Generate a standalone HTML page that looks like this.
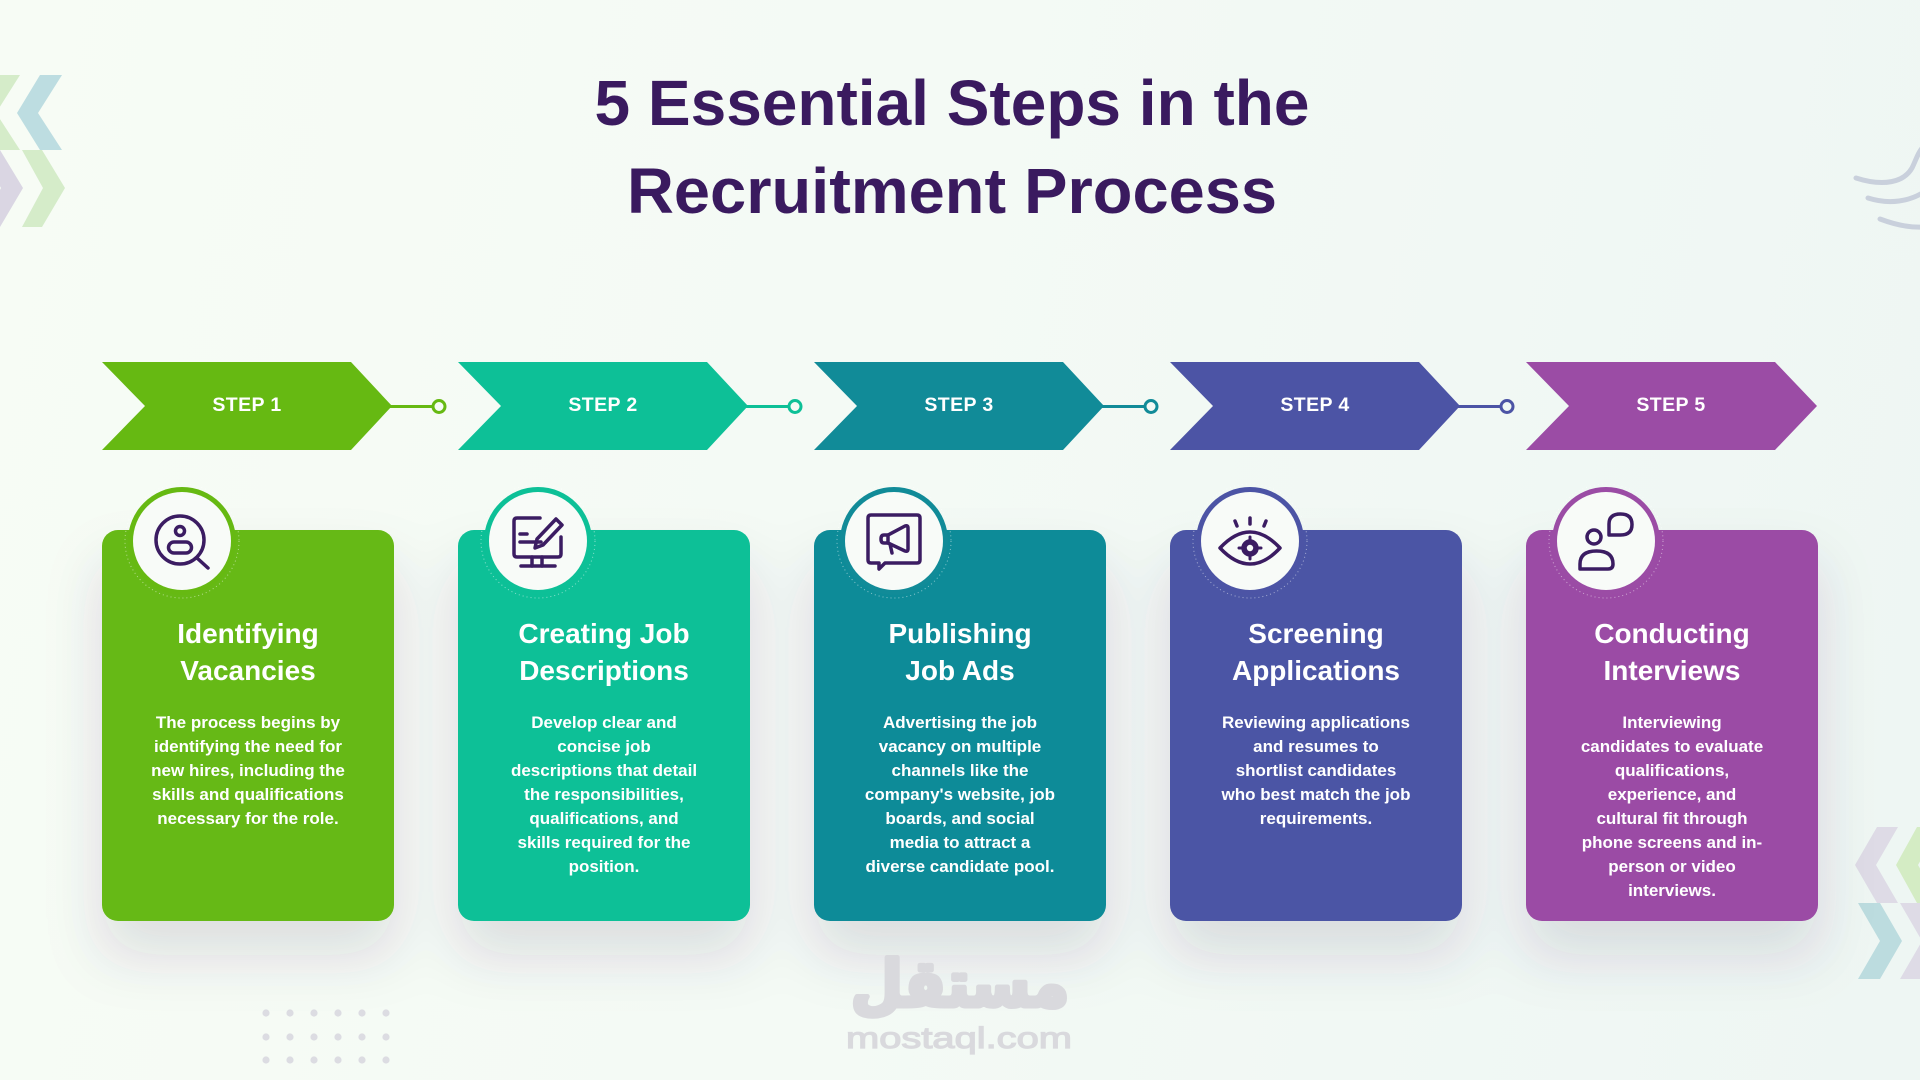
<!DOCTYPE html>
<html>
<head>
<meta charset="utf-8">
<style>
  html,body{margin:0;padding:0;}
  body{width:1920px;height:1080px;overflow:hidden;background:linear-gradient(100deg,#f7fcf5 0%,#f4faf5 45%,#eef6f3 100%);}
  svg{position:absolute;left:0;top:0;}
  text{font-family:"Liberation Sans",Arial,sans-serif;font-weight:bold;}
</style>
</head>
<body>
<svg width="1920" height="1080" viewBox="0 0 1920 1080" xmlns="http://www.w3.org/2000/svg">
  <defs>
    <filter id="sh" x="-50%" y="-40%" width="200%" height="190%">
      <feDropShadow dx="0" dy="34" stdDeviation="28" flood-color="#3a3460" flood-opacity="0.14"/>
    </filter>
  </defs>

  <!-- top-left decoration -->
  <polygon points="-2,75 20,75 -4,113 20,150 -2,150 -25,113" fill="#d5ecc9"/>
  <polygon points="40,75 62,75 38,113 62,150 40,150 17,113" fill="#bddde1"/>
  <polygon points="-20,150 0,150 23,188 0,227 -20,227 1,188" fill="#dad6e3"/>
  <polygon points="22,150 42,150 65,188 42,227 22,227 43,188" fill="#d5ecc9"/>

  <!-- top-right curves -->
  <g fill="none" stroke="#c9d0dc" stroke-width="5" stroke-linecap="round">
    <path d="M1856,178 C1884,187 1904,182 1912,168 C1916,160 1918,152 1924,146"/>
    <path d="M1868,198 C1890,205 1910,201 1924,192"/>
    <path d="M1880,219 C1896,225 1910,228 1924,227"/>
  </g>

  <!-- bottom-right decoration -->
  <polygon points="1877,827 1898,827 1876,865 1898,903 1877,903 1855,865" fill="#dedbe6"/>
  <polygon points="1917,827 1940,827 1918,865 1940,903 1917,903 1896,865" fill="#d4ecc4"/>
  <polygon points="1858,903 1880,903 1902,941 1880,979 1858,979 1880,941" fill="#bcdcdf"/>
  <polygon points="1900,903 1922,903 1944,941 1922,979 1900,979 1922,941" fill="#dedbe6"/>

  <!-- dots -->
  <g fill="#dcdce2">
    <circle cx="266" cy="1013" r="3.6"/><circle cx="290" cy="1013" r="3.6"/><circle cx="314" cy="1013" r="3.6"/><circle cx="338" cy="1013" r="3.6"/><circle cx="362" cy="1013" r="3.6"/><circle cx="386" cy="1013" r="3.6"/>
    <circle cx="266" cy="1037" r="3.6"/><circle cx="290" cy="1037" r="3.6"/><circle cx="314" cy="1037" r="3.6"/><circle cx="338" cy="1037" r="3.6"/><circle cx="362" cy="1037" r="3.6"/><circle cx="386" cy="1037" r="3.6"/>
    <circle cx="266" cy="1060" r="3.6"/><circle cx="290" cy="1060" r="3.6"/><circle cx="314" cy="1060" r="3.6"/><circle cx="338" cy="1060" r="3.6"/><circle cx="362" cy="1060" r="3.6"/><circle cx="386" cy="1060" r="3.6"/>
  </g>

  <!-- title -->
  <text x="952" y="125" font-size="64" fill="#3a1a5f" text-anchor="middle">5 Essential Steps in the</text>
  <text x="952" y="213" font-size="64" fill="#3a1a5f" text-anchor="middle" textLength="650" lengthAdjust="spacingAndGlyphs">Recruitment Process</text>

  <!-- ARROWS -->
  <g>
    <polygon points="102,362 351,362 392,406 351,450 102,450 145,406" fill="#66b912"/>
    <line x1="390" y1="406.5" x2="432" y2="406.5" stroke="#66b912" stroke-width="3"/>
    <circle cx="439" cy="406.5" r="6" fill="#f6fbf5" stroke="#66b912" stroke-width="3"/>
    <text x="247" y="411" font-size="19.5" fill="#ffffff" text-anchor="middle" letter-spacing="0.4">STEP 1</text>

    <polygon points="458,362 707,362 748,406 707,450 458,450 501,406" fill="#0dc097"/>
    <line x1="746" y1="406.5" x2="788" y2="406.5" stroke="#0dc097" stroke-width="3"/>
    <circle cx="795" cy="406.5" r="6" fill="#f5faf5" stroke="#0dc097" stroke-width="3"/>
    <text x="603" y="411" font-size="19.5" fill="#ffffff" text-anchor="middle" letter-spacing="0.4">STEP 2</text>

    <polygon points="814,362 1063,362 1104,406 1063,450 814,450 857,406" fill="#118b98"/>
    <line x1="1102" y1="406.5" x2="1144" y2="406.5" stroke="#118b98" stroke-width="3"/>
    <circle cx="1151" cy="406.5" r="6" fill="#f3f9f5" stroke="#118b98" stroke-width="3"/>
    <text x="959" y="411" font-size="19.5" fill="#ffffff" text-anchor="middle" letter-spacing="0.4">STEP 3</text>

    <polygon points="1170,362 1419,362 1460,406 1419,450 1170,450 1213,406" fill="#4c54a5"/>
    <line x1="1458" y1="406.5" x2="1500" y2="406.5" stroke="#4c54a5" stroke-width="3"/>
    <circle cx="1507" cy="406.5" r="6" fill="#f1f8f4" stroke="#4c54a5" stroke-width="3"/>
    <text x="1315" y="411" font-size="19.5" fill="#ffffff" text-anchor="middle" letter-spacing="0.4">STEP 4</text>

    <polygon points="1526,362 1775,362 1817,406 1775,450 1526,450 1569,406" fill="#9b4ca5"/>
    <text x="1671" y="411" font-size="19.5" fill="#ffffff" text-anchor="middle" letter-spacing="0.4">STEP 5</text>
  </g>

  <!-- CARDS -->
  <g filter="url(#sh)">
    <rect x="102" y="530" width="292" height="391" rx="16" fill="#66b912"/>
    <rect x="458" y="530" width="292" height="391" rx="16" fill="#0dc097"/>
    <rect x="814" y="530" width="292" height="391" rx="16" fill="#118b98"/>
    <rect x="1170" y="530" width="292" height="391" rx="16" fill="#4c54a5"/>
    <rect x="1526" y="530" width="292" height="391" rx="16" fill="#9b4ca5"/>
  </g>

  <!-- icon circles -->
  <g>
    <circle cx="182" cy="541" r="57" fill="none" stroke="#ffffff" stroke-opacity="0.5" stroke-width="1" stroke-dasharray="1 3"/>
    <circle cx="182" cy="541" r="54" fill="#66b912"/>
    <circle cx="182" cy="541" r="49" fill="#f8fbf8"/>
    <circle cx="538" cy="541" r="57" fill="none" stroke="#ffffff" stroke-opacity="0.5" stroke-width="1" stroke-dasharray="1 3"/>
    <circle cx="538" cy="541" r="54" fill="#0dc097"/>
    <circle cx="538" cy="541" r="49" fill="#f8fbf8"/>
    <circle cx="894" cy="541" r="57" fill="none" stroke="#ffffff" stroke-opacity="0.5" stroke-width="1" stroke-dasharray="1 3"/>
    <circle cx="894" cy="541" r="54" fill="#118b98"/>
    <circle cx="894" cy="541" r="49" fill="#f8fbf8"/>
    <circle cx="1250" cy="541" r="57" fill="none" stroke="#ffffff" stroke-opacity="0.5" stroke-width="1" stroke-dasharray="1 3"/>
    <circle cx="1250" cy="541" r="54" fill="#4c54a5"/>
    <circle cx="1250" cy="541" r="49" fill="#f8fbf8"/>
    <circle cx="1606" cy="541" r="57" fill="none" stroke="#ffffff" stroke-opacity="0.5" stroke-width="1" stroke-dasharray="1 3"/>
    <circle cx="1606" cy="541" r="54" fill="#9b4ca5"/>
    <circle cx="1606" cy="541" r="49" fill="#f8fbf8"/>
  </g>

  <!-- icons -->
  <g fill="none" stroke="#3b1c62" stroke-width="3.5" stroke-linecap="round" stroke-linejoin="round">
    <g transform="translate(182,541)">
      <circle cx="-2" cy="-1" r="24"/>
      <line x1="15" y1="17" x2="26" y2="27"/>
      <circle cx="-2" cy="-10" r="4.5"/>
      <rect x="-13.5" y="1" width="23" height="11" rx="5.5"/>
    </g>
    <g transform="translate(538,541)">
      <path d="M2,-23 L-21,-23 Q-24,-23 -24,-20 L-24,13 Q-24,16 -21,16 L20,16 Q23,16 23,13 L23,-4"/>
      <path d="M18,-22 L24,-16 L5,4 L-3,7 L-1,-2 Z"/>
      <line x1="-18" y1="-7" x2="-11" y2="-7"/>
      <line x1="-18" y1="1" x2="3" y2="1"/>
      <line x1="-6" y1="16" x2="-6" y2="25"/>
      <line x1="4" y1="16" x2="4" y2="25"/>
      <line x1="-17" y1="25" x2="17" y2="25"/>
    </g>
    <g transform="translate(894,541)">
      <path d="M-26,-23 Q-26,-26 -23,-26 L23,-26 Q26,-26 26,-23 L26,19 Q26,22 23,22 L-9,22 L-15,28 L-15,22 L-23,22 Q-26,22 -26,19 Z"/>
      <path d="M-6,-6 L11,-15 Q14,-16 14,-13 L14,8 Q14,11 11,10 L-6,2 Z"/>
      <path d="M-6,-6 L-10,-6 Q-13,-6 -13,-2 Q-13,2 -10,2 L-6,2"/>
      <line x1="-4" y1="3" x2="-2" y2="12"/>
    </g>
    <g transform="translate(1250,541)">
      <path d="M-30,7 Q0,-25 30,7 Q0,39 -30,7 Z"/>
      <line x1="-15" y1="-20" x2="-13" y2="-15"/>
      <line x1="0" y1="-23" x2="0" y2="-17"/>
      <line x1="16" y1="-20" x2="14" y2="-15"/>
      <circle cx="0" cy="7" r="7" fill="#3b1c62"/>
      <path d="M0,-4 L0,18 M-11,7 L11,7" stroke-width="3"/>
      <circle cx="0" cy="7" r="3.2" fill="#f8fbf8" stroke="none"/>
    </g>
    <g transform="translate(1606,541)">
      <circle cx="-12" cy="-4" r="7"/>
      <path d="M-26,28 L2,28 Q7,28 7,23 Q7,10 -9.5,10 Q-26,10 -26,23 Z"/>
      <path d="M3,-6 L3,-17 Q3,-27 14.5,-27 Q26,-27 26,-16.5 Q26,-6 14.5,-6 Z"/>
    </g>
  </g>

  <!-- card texts -->
  <g fill="#ffffff" text-anchor="middle">
    <text x="248" y="643" font-size="28">Identifying</text>
    <text x="248" y="680" font-size="28">Vacancies</text>
    <g font-size="17">
      <text x="248" y="728">The process begins by</text>
      <text x="248" y="752">identifying the need for</text>
      <text x="248" y="776">new hires, including the</text>
      <text x="248" y="800">skills and qualifications</text>
      <text x="248" y="824">necessary for the role.</text>
    </g>

    <text x="604" y="643" font-size="28">Creating Job</text>
    <text x="604" y="680" font-size="28">Descriptions</text>
    <g font-size="17">
      <text x="604" y="728">Develop clear and</text>
      <text x="604" y="752">concise job</text>
      <text x="604" y="776">descriptions that detail</text>
      <text x="604" y="800">the responsibilities,</text>
      <text x="604" y="824">qualifications, and</text>
      <text x="604" y="848">skills required for the</text>
      <text x="604" y="872">position.</text>
    </g>

    <text x="960" y="643" font-size="28">Publishing</text>
    <text x="960" y="680" font-size="28">Job Ads</text>
    <g font-size="17">
      <text x="960" y="728">Advertising the job</text>
      <text x="960" y="752">vacancy on multiple</text>
      <text x="960" y="776">channels like the</text>
      <text x="960" y="800">company's website, job</text>
      <text x="960" y="824">boards, and social</text>
      <text x="960" y="848">media to attract a</text>
      <text x="960" y="872">diverse candidate pool.</text>
    </g>

    <text x="1316" y="643" font-size="28">Screening</text>
    <text x="1316" y="680" font-size="28">Applications</text>
    <g font-size="17">
      <text x="1316" y="728">Reviewing applications</text>
      <text x="1316" y="752">and resumes to</text>
      <text x="1316" y="776">shortlist candidates</text>
      <text x="1316" y="800">who best match the job</text>
      <text x="1316" y="824">requirements.</text>
    </g>

    <text x="1672" y="643" font-size="28">Conducting</text>
    <text x="1672" y="680" font-size="28">Interviews</text>
    <g font-size="17">
      <text x="1672" y="728">Interviewing</text>
      <text x="1672" y="752">candidates to evaluate</text>
      <text x="1672" y="776">qualifications,</text>
      <text x="1672" y="800">experience, and</text>
      <text x="1672" y="824">cultural fit through</text>
      <text x="1672" y="848">phone screens and in-</text>
      <text x="1672" y="872">person or video</text>
      <text x="1672" y="896">interviews.</text>
    </g>
  </g>

  <!-- watermark -->
  <text x="960" y="1006" font-size="64" fill="#d9d9dd" stroke="#d9d9dd" stroke-width="5" stroke-linejoin="round" text-anchor="middle" style="font-family:'DejaVu Sans',sans-serif;font-weight:bold" textLength="218" lengthAdjust="spacingAndGlyphs">مستقل</text>
  <text x="959" y="1048" font-size="30" fill="#d9d9dd" stroke="#d9d9dd" stroke-width="1.2" text-anchor="middle" style="font-family:'Liberation Sans',sans-serif;font-weight:normal" textLength="226" lengthAdjust="spacingAndGlyphs">mostaql.com</text>
</svg>
</body>
</html>
